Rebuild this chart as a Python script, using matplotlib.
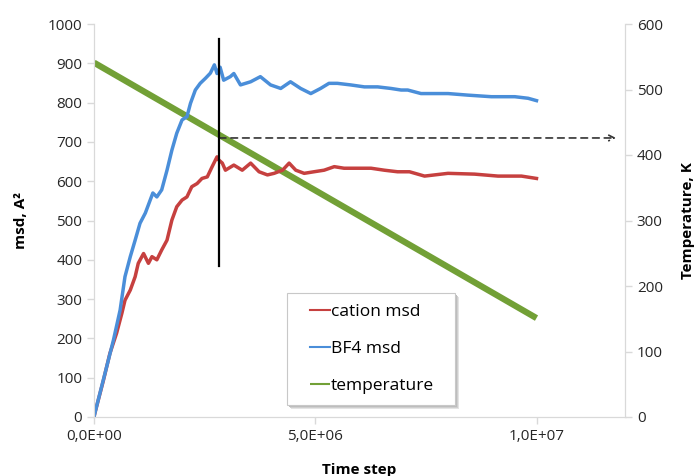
import matplotlib
matplotlib.use('Agg')
import matplotlib.pyplot as plt
from matplotlib.patches import Rectangle

plt.rcParams['font.family'] = ['Open Sans', 'DejaVu Sans']

# --- DATA ---
# time step (x) and msd [A^2] for the two ions
bf4_step = [0, 0.02e6, 0.21e6, 0.44e6, 0.59e6, 0.70e6, 0.82e6, 0.93e6, 1.04e6, 1.16e6,
            1.27e6, 1.33e6, 1.42e6, 1.53e6, 1.65e6, 1.76e6, 1.87e6, 1.99e6, 2.10e6, 2.18e6,
            2.29e6, 2.40e6, 2.52e6, 2.63e6, 2.72e6, 2.78e6, 2.85e6, 2.93e6, 3.08e6, 3.16e6,
            3.31e6, 3.54e6, 3.76e6, 3.99e6, 4.22e6, 4.44e6, 4.67e6, 4.90e6, 5.12e6, 5.31e6,
            5.50e6, 5.80e6, 6.11e6, 6.41e6, 6.71e6, 6.94e6, 7.09e6, 7.39e6, 8.00e6, 8.45e6,
            8.98e6, 9.51e6, 9.81e6, 10.0e6]
bf4_msd = [0, 10, 94, 196, 272, 357, 408, 450, 493, 519,
           552, 570, 560, 578, 628, 679, 722, 756, 764, 798,
           832, 849, 862, 875, 896, 874, 890, 857, 866, 874,
           845, 853, 866, 845, 836, 853, 836, 823, 836, 849,
           849, 845, 840, 840, 836, 832, 832, 823, 823, 819,
           815, 815, 811, 805]

cation_step = [0, 0.02e6, 0.21e6, 0.36e6, 0.51e6, 0.63e6, 0.70e6, 0.82e6, 0.93e6, 1.00e6,
               1.12e6, 1.23e6, 1.31e6, 1.42e6, 1.53e6, 1.65e6, 1.76e6, 1.87e6, 1.99e6, 2.10e6,
               2.21e6, 2.33e6, 2.44e6, 2.56e6, 2.67e6, 2.78e6, 2.82e6, 2.90e6, 2.97e6, 3.16e6,
               3.35e6, 3.54e6, 3.73e6, 3.92e6, 4.07e6, 4.26e6, 4.41e6, 4.56e6, 4.75e6, 4.97e6,
               5.20e6, 5.43e6, 5.65e6, 5.96e6, 6.26e6, 6.56e6, 6.86e6, 7.13e6, 7.47e6, 8.00e6,
               8.60e6, 9.13e6, 9.66e6, 10.0e6]
cation_msd = [0, 10, 92, 162, 213, 264, 297, 323, 357, 391,
              416, 391, 408, 400, 425, 450, 501, 535, 552, 560,
              586, 594, 607, 611, 637, 662, 654, 646, 628, 641,
              628, 646, 624, 616, 620, 628, 646, 628, 620, 624,
              628, 637, 633, 633, 633, 628, 624, 624, 613, 620,
              618, 613, 613, 607]

# temperature [K] on the right axis
temp_step = [0, 1e6, 2e6, 3e6, 4e6, 5e6, 6e6, 7e6, 8e6, 9e6, 10e6]
temp_K = [541, 502, 463, 424, 385, 346, 307, 268, 229, 190, 151]

# marker line and arrow
mark_step = 2.83e6
mark_msd = [385, 962]
arrow_K = 426
arrow_end = 1.18e7

x_ticks = [0, 5e6, 1e7]
x_ticklabels = ['0,0E+00', '5,0E+06', '1,0E+07']

blue = '#4a8ed9'
red = '#c6403f'
green = '#72a036'
grey = '#d9d9d9'

fig = plt.figure(figsize=(6.94, 4.76), dpi=100)
ax = fig.add_axes([94/694, 1 - 417/476, 531/694, 393/476])
ax2 = ax.twinx()
ax.set_zorder(2)
ax.patch.set_visible(False)

l_t, = ax2.plot(temp_step, temp_K, color=green, lw=4.5, solid_capstyle='butt', label='temperature')
l_c, = ax.plot(cation_step, cation_msd, color=red, lw=2.5, label='cation msd')
l_b, = ax.plot(bf4_step, bf4_msd, color=blue, lw=2.5, label='BF4 msd')

ax.plot([mark_step, mark_step], mark_msd, color='black', lw=1.6)
ax2.annotate('', xy=(arrow_end, arrow_K), xytext=(mark_step, arrow_K),
             arrowprops=dict(arrowstyle='->', color='#333333', lw=1.2,
                             linestyle=(0, (4, 3)), shrinkA=0, shrinkB=0))

ax.set_xlim(0, 1.2e7)
ax.set_ylim(0, 1000)
ax2.set_ylim(0, 600)
ax.set_yticks(range(0, 1001, 100))
ax2.set_yticks(range(0, 601, 100))
ax.set_xticks(x_ticks)
ax.set_xticklabels(x_ticklabels)

for a in (ax, ax2):
    for s in a.spines.values():
        s.set_color(grey)
    a.spines['top'].set_visible(False)
    a.tick_params(colors=grey, labelcolor='#262626', labelsize=11, length=5, width=1)

ax.set_xlabel('Time step', fontsize=11, fontweight='bold', labelpad=14)
ax.set_ylabel('msd, A²', fontsize=11, fontweight='bold', labelpad=14)
ax2.set_ylabel('Temperature, K', fontsize=11, fontweight='bold', labelpad=13)

# legend box drawn by hand (Excel style: wide side padding, soft shadow)
box = (287/694, 1 - 405/476, 168/694, 112/476)
for off, col in ((4, '#e4e4e4'), (3, '#cfcfcf'), (2, '#bdbdbd')):
    fig.patches.append(Rectangle((box[0] + off/694, box[1] - off/476), box[2], box[3],
                                 transform=fig.transFigure, facecolor=col,
                                 edgecolor='none', zorder=5))
fig.patches.append(Rectangle((box[0], box[1]), box[2], box[3],
                             transform=fig.transFigure, facecolor='white',
                             edgecolor='#c8c8c8', lw=0.8, zorder=6))
leg = fig.legend(handles=[l_c, l_b, l_t], loc='center left',
                 bbox_to_anchor=(box[0] + 23/694, box[1], box[2], box[3]),
                 borderaxespad=0, borderpad=0, frameon=False,
                 fontsize=12.5, handlelength=1.15, handletextpad=0.05,
                 labelspacing=1.2)
leg.set_zorder(7)
for h in leg.legend_handles:
    h.set_linewidth(1.5)

fig.savefig('out.png', dpi=100)
